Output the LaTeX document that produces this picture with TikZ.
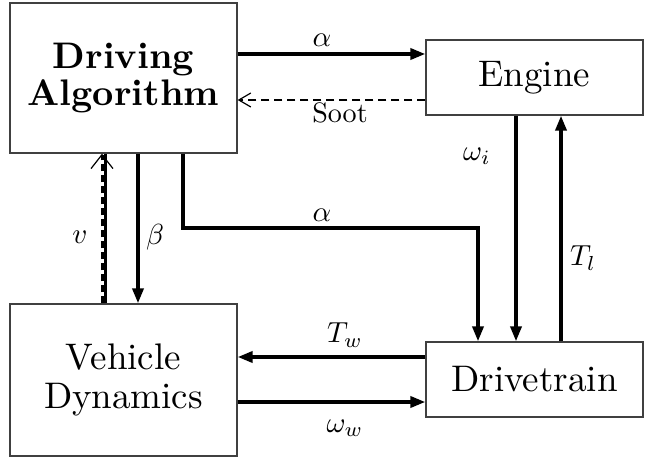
\documentclass[tikz,border=0pt]{standalone}
\usetikzlibrary{arrows.meta}
\begin{document}
\begin{tikzpicture}[x=1pt,y=-1pt,
  box/.style={draw=black!75,line width=1.3pt,inner sep=0pt},
  btext/.style={scale=3.7,align=center,inner sep=0pt},
  conn/.style={line width=3.5pt,-{Triangle[length=15pt,width=11pt]}},
  dconn/.style={line width=1.6pt,dash pattern=on 8pt off 5pt,
    -{Straight Barb[length=12pt,width=14pt,line width=1.2pt]}},
  lbl/.style={scale=2.9,inner sep=0pt}]
\useasboundingbox (0,0) rectangle (645,457);
\fill[white] (0,0) rectangle (645,457);
% boxes
\node[box,minimum width=227pt,minimum height=150pt] (DA) at (123.5,78) {};
\node[box,minimum width=217pt,minimum height=75pt] (EN) at (534.5,77.5) {};
\node[box,minimum width=227pt,minimum height=152pt] (VD) at (123.5,380) {};
\node[box,minimum width=217pt,minimum height=75pt] (DT) at (534.5,379.5) {};
% box texts
\node[btext,font=\fontsize{10}{10}\selectfont\bfseries] (tDA) at (DA) {Driving\\Algorithm};
\node[btext] (tEN) at (EN) {Engine};
\node[btext,font=\fontsize{10}{10.5}\selectfont] (tVD) at (VD) {Vehicle\\Dynamics};
\node[btext] (tDT) at (DT) {Drivetrain};
% helper coordinates
\coordinate (ya) at (0,54);
\coordinate (ys) at (0,100);
\coordinate (xv) at (102,0);
\coordinate (xvs) at (105.5,0);
\coordinate (xb) at (138,0);
\coordinate (xa2) at (183,0);
\coordinate (a2) at (478,228);
\coordinate (xwi) at (516,0);
\coordinate (xtl) at (561,0);
\coordinate (ytw) at (0,357);
\coordinate (yww) at (0,402);
% connectors
\draw[conn] (DA.east |- ya) -- (EN.west |- ya);
\draw[dconn] (EN.west |- ys) -- (DA.east |- ys);
\draw[conn] (DA.south -| xb) -- (VD.north -| xb);
\draw[line width=3pt] (VD.north -| xvs) -- (DA.south -| xvs);
\draw[line width=3pt,dash pattern=on 7pt off 4pt,
  -{Straight Barb[length=14pt,width=22pt,line width=1.2pt]}] (VD.north -| xv) -- (DA.south -| xv);
\draw[conn] (DA.south -| xa2) |- (a2) -- (a2 |- DT.north);
\draw[conn] (EN.south -| xwi) -- (DT.north -| xwi);
\draw[conn] (DT.north -| xtl) -- (EN.south -| xtl);
\draw[conn] (DT.west |- ytw) -- (VD.east |- ytw);
\draw[conn] (VD.east |- yww) -- (DT.west |- yww);
% labels
\node[lbl] (la1) at (322,40) {$\alpha$};
\node[lbl,scale=0.97] (lso) at (340,113) {Soot};
\node[lbl] (lwi) at (477,156) {$\omega_i$};
\node[lbl] (la2) at (322,215) {$\alpha$};
\node[lbl] (ltl) at (583,258) {$T_l$};
\node[lbl] (lv) at (80,237) {$v$};
\node[lbl] (lb) at (155,237) {$\beta$};
\node[lbl] (ltw) at (345,335) {$T_w$};
\node[lbl] (lww) at (345,428) {$\omega_w$};
\end{tikzpicture}
\end{document}
